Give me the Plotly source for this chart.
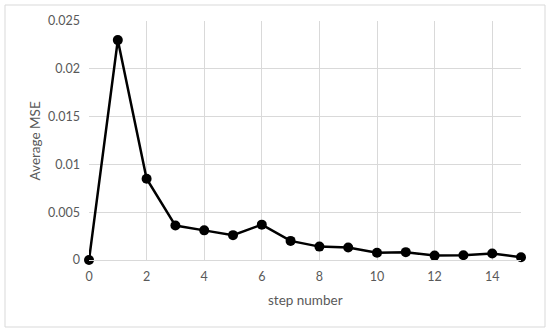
import plotly.graph_objects as go

steps = list(range(16))
avg_mse = [0.0, 0.0230, 0.0085, 0.0036, 0.0031, 0.0026, 0.0037, 0.0020,
           0.0014, 0.0013, 0.00075, 0.00082, 0.00046, 0.00050, 0.00068, 0.00028]
y_ticks = [0, 0.005, 0.01, 0.015, 0.02, 0.025]
y_tick_labels = ["0", "0.005", "0.01", "0.015", "0.02", "0.025"]
x_ticks = [0, 2, 4, 6, 8, 10, 12, 14]

W, H = 550, 332
L, R, T, B = 89, 29, 21, 72
pw, ph = W - L - R, H - T - B

fig = go.Figure()
fig.add_trace(go.Scatter(
    x=steps, y=avg_mse, mode="lines+markers",
    line=dict(color="black", width=2.5),
    marker=dict(color="black", size=10),
    showlegend=False, cliponaxis=False,
))

tick_font = dict(family="Lato, Open Sans, sans-serif", size=12.5, color="#595959")
title_font = dict(family="Lato, Open Sans, sans-serif", size=13.5, color="#595959")

fig.update_layout(
    width=W, height=H,
    margin=dict(l=L, r=R, t=T, b=B, autoexpand=False),
    paper_bgcolor="white", plot_bgcolor="white",
    xaxis=dict(
        range=[0, 15], tickvals=x_ticks, showgrid=True, gridcolor="#d9d9d9",
        gridwidth=1, zeroline=False, showline=True, linecolor="#d9d9d9",
        linewidth=1, ticks="", tickfont=tick_font, automargin=False,
        ticklabelstandoff=5,
    ),
    yaxis=dict(
        range=[0, 0.025], tickvals=y_ticks, ticktext=y_tick_labels,
        showgrid=True, gridcolor="#d9d9d9", gridwidth=1, zeroline=False,
        showline=False, ticks="", tickfont=tick_font, ticklabelstandoff=8,
        automargin=False,
    ),
    annotations=[
        dict(text="step number", xref="paper", yref="paper",
             x=0.5, y=(H - B - 300) / ph, showarrow=False,
             xanchor="center", yanchor="middle", font=title_font),
        dict(text="Average MSE", xref="paper", yref="paper",
             x=(34 - L) / pw, y=0.5, showarrow=False, textangle=-90,
             xanchor="center", yanchor="middle", font=title_font),
    ],
    shapes=[dict(
        type="rect", xref="paper", yref="paper",
        x0=(5 - L) / pw, x1=(545 - L) / pw,
        y0=(H - B - 327) / ph, y1=(H - B - 5) / ph,
        line=dict(color="#d9d9d9", width=1), fillcolor="rgba(0,0,0,0)",
        layer="below",
    )],
)

fig.write_html("out.html", config={"displayModeBar": False},
               post_script="document.body.style.margin='0';document.body.style.overflow='hidden';")
